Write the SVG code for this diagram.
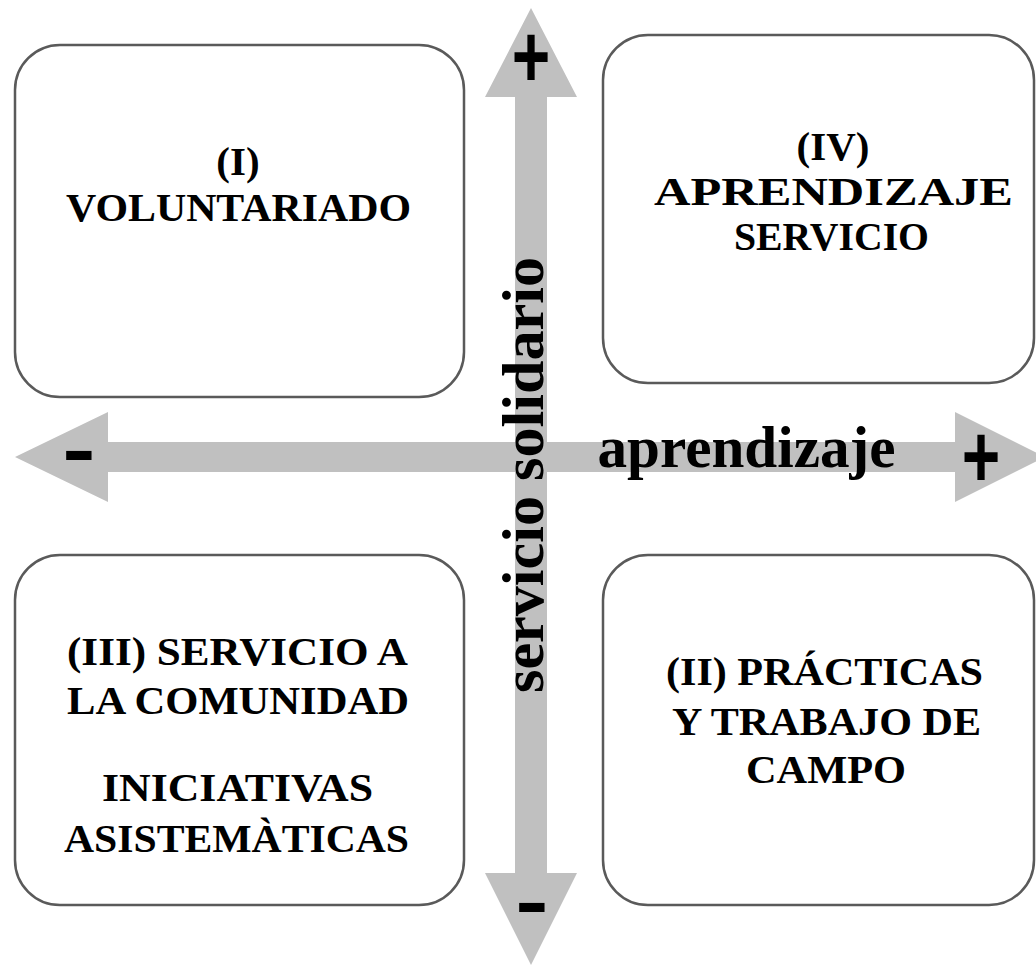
<svg xmlns="http://www.w3.org/2000/svg" width="1036" height="966" viewBox="0 0 1036 966">
<style>
.box{fill:#fff;stroke:#5a5a5a;stroke-width:2.5}
.arrow{fill:#c0c0c0;stroke:none}
.lbl{font-family:"Liberation Serif","Times New Roman",serif;font-weight:bold;font-size:41px;fill:#000;text-anchor:middle}
.axis{font-family:"Liberation Serif","Times New Roman",serif;font-weight:bold;font-size:60px;fill:#000;text-anchor:middle}
.sign{font-family:"Liberation Sans",Arial,sans-serif;font-weight:bold;fill:#000;text-anchor:middle}
</style>
<rect width="1036" height="966" fill="#fff"/>
<g id="connectors">
  <polygon class="arrow" points="15,457 108,412 108,442 955,442 955,412 1045,457 955,502 955,472 108,472 108,502"/>
  <polygon class="arrow" points="531,8 577,97 547,97 547,873 577,873 531,965 485,873 515,873 515,97 485,97"/>
  <text class="axis" transform="translate(543,475) rotate(-90)" x="0" y="0" textLength="436" lengthAdjust="spacingAndGlyphs">servicio solidario</text>
  <text class="axis" x="746.5" y="467" textLength="298" lengthAdjust="spacingAndGlyphs">aprendizaje</text>
  <text class="sign" font-size="66" transform="translate(531,56) scale(1,1.35)" x="0" y="23">+</text>
  <text class="sign" font-size="66" transform="translate(981,456) scale(1,1.35)" x="0" y="23">+</text>
  <text class="sign" font-size="100" transform="translate(79,455) scale(1,0.76)" x="0" y="26">-</text>
  <text class="sign" font-size="100" transform="translate(532,907) scale(1,0.76)" x="0" y="26">-</text>
</g>
<g id="node-I">
  <rect class="box" x="15" y="45" width="449" height="352" rx="45" ry="45"/>
  <text class="lbl" x="238" y="175">(I)</text>
  <text class="lbl" x="238.5" y="221" textLength="345" lengthAdjust="spacingAndGlyphs">VOLUNTARIADO</text>
</g>
<g id="node-IV">
  <rect class="box" x="603" y="35" width="431" height="348" rx="45" ry="45"/>
  <text class="lbl" x="833" y="160">(IV)</text>
  <text class="lbl" x="833.5" y="205" textLength="359" lengthAdjust="spacingAndGlyphs">APRENDIZAJE</text>
  <text class="lbl" x="831.5" y="250" textLength="195" lengthAdjust="spacingAndGlyphs">SERVICIO</text>
</g>
<g id="node-III">
  <rect class="box" x="15" y="555" width="449" height="350" rx="45" ry="45"/>
  <text class="lbl" x="237.5" y="665" textLength="341" lengthAdjust="spacingAndGlyphs">(III) SERVICIO A</text>
  <text class="lbl" x="238" y="714" textLength="342" lengthAdjust="spacingAndGlyphs">LA COMUNIDAD</text>
  <text class="lbl" x="237.5" y="801" textLength="271" lengthAdjust="spacingAndGlyphs">INICIATIVAS</text>
  <text class="lbl" x="236.5" y="852" textLength="345" lengthAdjust="spacingAndGlyphs">ASISTEMÀTICAS</text>
</g>
<g id="node-II">
  <rect class="box" x="603" y="555" width="431" height="350" rx="45" ry="45"/>
  <text class="lbl" x="824.5" y="685" textLength="317" lengthAdjust="spacingAndGlyphs">(II) PRÁCTICAS</text>
  <text class="lbl" x="826.5" y="735" textLength="309" lengthAdjust="spacingAndGlyphs">Y TRABAJO DE</text>
  <text class="lbl" x="826" y="783" textLength="160" lengthAdjust="spacingAndGlyphs">CAMPO</text>
</g>
</svg>
